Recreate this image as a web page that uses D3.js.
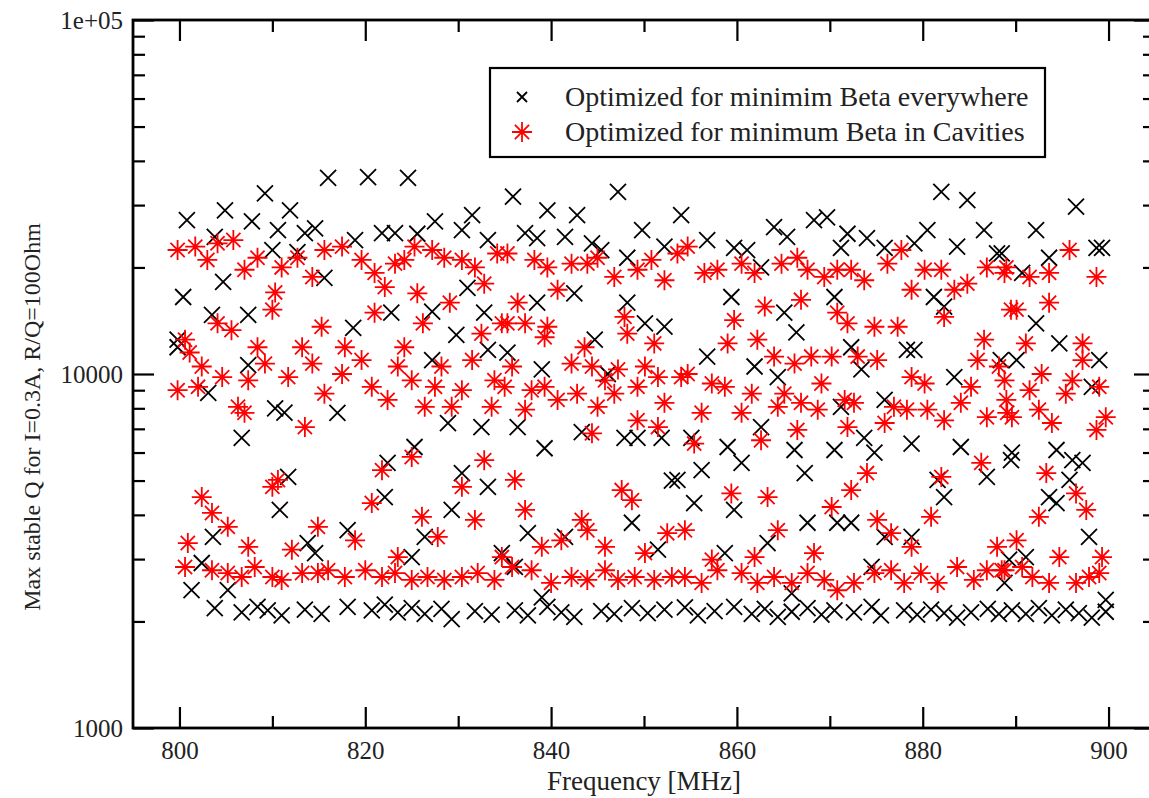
<!DOCTYPE html>
<html>
<head>
<meta charset="utf-8">
<script src="https://cdn.jsdelivr.net/npm/d3@7"></script>
<style>
  body { margin: 0; background: #fff; }
  svg text { font-family: "Liberation Serif", "Times New Roman", serif; fill: #222; }
</style>
</head>
<body>
<div id="chart"></div>
<script>
// [frequency MHz, max stable Q], split by band
const blackTop = [
  [816,35800],[809.2,32400],[804.9,29000],[811.9,29000],[800.8,27200],[807.8,27000],[810.6,25500],[813.5,25000],[814.6,25800],
  [803.8,24400],[810,22400],[812.7,22100],[804.7,18200],[815.6,18700],[800.4,16500],[803.5,14700],[807.4,14700],
  [820.3,36000],[824.6,35800],[831.5,28100],[827.5,27000],[830.4,25500],[821.8,25000],[823.2,25000],[825.6,24900],[833.2,23900],
  [818.9,23900],[831,17500],[822.8,14900],[827.2,15000],[832.8,14900],
  [847.2,32700],[835.9,31700],[839.6,29000],[842.8,28100],[849.8,25500],[837.2,25000],[838.5,24200],[841.5,24400],[844.4,23400],
  [852.2,22900],[845.4,22400],[848.2,21300],[842.5,16900],[848.2,15900],[838.5,15900],
  [854,28100],[864,26000],[865.4,24400],[868.3,27200],[869.7,27700],[856.8,23900],[859.7,22700],[861.1,22400],[862.6,20000],
  [871.2,22700],[859.4,16500],[865.1,14900],[870.5,16500],
  [882,32700],[884.8,31000],[880.5,25500],[886.6,25500],[871.9,24900],[874,24200],[875.9,22700],[879.1,23400],[883.7,22900],
  [888,21900],[881.2,16500],[882.3,15500],
  [896.5,29700],[892.2,25500],[893.6,21300],[898.7,22700],[899.3,22700],[888.5,21900],[890.7,19300]
];
const blackMid = [
  [799.8,12500],[799.8,11900],[807.4,10600],[803.1,8840],[810.3,8000],[811.3,7780],[806.7,6600],
  [818.7,13500],[829.8,12900],[827.2,10950],[833.2,11700],[817,7770],[828.9,7270],[832.5,7080],[825.3,6220],
  [844.7,12500],[850.1,13900],[852.2,13600],[839,10300],[835.3,11500],[846.1,10000],[836.4,7080],[843.3,6850],[839.3,6170],
  [847.9,6600],[849.3,6600],[851.9,6600],
  [866.4,13100],[856.8,11200],[861.9,10500],[864.4,9800],[871.2,8080],[855.1,6600],[859,6220],[862.6,7080],[866.2,6100],[870.5,6100],
  [878.3,11700],[879.1,11700],[873.4,10300],[872.3,11900],[883.4,9800],[875.9,8450],[888.4,10950],[873.7,6600],[874.8,6000],
  [878.8,6360],[884.1,6220],
  [892.2,13900],[894.7,12200],[890.1,10950],[899,10950],[898.2,9200],[889.6,6000],[894.4,6100]
];
const blackLow = [
  [811.7,5120],[810.8,4130],[803.6,3465],[813.8,3330],[814.6,3120],[802.4,2925],[801.3,2450],[805.2,2450],
  [822.4,5610],[830.4,5250],[833.2,4800],[822.1,4490],[829.3,4130],[818.1,3620],[826.4,3465],[825,3040],[834.7,3120],
  [853,5000],[848.7,3800],[837.5,3550],[841.5,3465],[836.1,2850],[851.5,3190],[839,2340],
  [867.3,5250],[860.5,5610],[856.2,5350],[853.6,5020],[855.4,4320],[859.7,4130],[867.6,3800],[863.3,3330],[870.8,3800],
  [858.7,3120],[865.9,2400],
  [886.9,5120],[889.5,5710],[882.3,4490],[881.6,5020],[872.3,3800],[878.8,3465],[875.9,3465],[874.5,2850],[888.8,2570],
  [896.1,5710],[897.2,5610],[895.8,5020],[893.6,4490],[894.4,4320],[897.9,3465],[891.1,3040],[889.3,2990],[899.7,2300]
];
const blackFloor = [
  [803.8,2180],[806.7,2120],[808.4,2200],[809.5,2150],[811,2080],[813.5,2160],[815.3,2100],
  [818.1,2200],[820.7,2150],[822.1,2230],[823.5,2120],[825,2180],[826.4,2100],[828.2,2170],[829.3,2030],[831.8,2140],[833.6,2090],
  [836.1,2150],[837.5,2080],[839.6,2200],[841.1,2120],[842.5,2060],[845.4,2140],[846.8,2100],[848.7,2180],[850.4,2110],[852.2,2160],
  [854.4,2190],[855.8,2080],[857.6,2140],[859.7,2200],[861.6,2100],[863,2170],[864.4,2060],[865.9,2130],[867.6,2180],[869.1,2090],
  [870.5,2150],
  [872.6,2120],[874.5,2200],[875.5,2080],[878,2150],[879.4,2090],[880.9,2160],[882.3,2110],[883.7,2050],[885.2,2120],[887,2170],
  [888.2,2100],
  [889.6,2150],[891.1,2100],[892.5,2180],[893.9,2080],[895.4,2160],[896.8,2110],[898.2,2050],[899.7,2130]
];

const redTop = [
  [799.8,22400],[801.7,22900],[803,21000],[804.1,23400],[805.8,23900],[807,19700],[808.4,21300],[811,20000],[812.7,21300],
  [814.3,18800],[815.6,22400],[810.3,17000],[810,15200],[804.1,13900],[805.6,13300],[815.3,13600],
  [817.5,22900],[819.6,21000],[821,19300],[822.1,17600],[823.2,20500],[824.2,21000],[825.3,22900],[827.2,22400],[828.5,21300],
  [830.4,21000],[831.8,20000],[832.8,18000],[834.2,21900],[825.6,16900],[829.1,15900],[821,14900],[826.2,13900],[832.5,13000],
  [834.7,13900],
  [835.3,21900],[838.2,21000],[839.6,20000],[842.2,20500],[843.9,20500],[845,21300],[846.8,18800],[849.3,19700],[850.8,21000],
  [852.2,18400],[840.7,17300],[836.4,15900],[847.9,14500],[848.2,13000],[835.3,13900],[837.2,13900],[839.6,13600],
  [854.7,22900],[853.6,21900],[856.5,19300],[857.9,19700],[860.5,20500],[861.9,19300],[864.8,20500],[866.5,21300],[867.6,19700],
  [869.4,18800],[870.8,19700],[866.9,16200],[863,15500],[859.7,14200],[870.8,14900],
  [872.3,19700],[873.7,18400],[876.2,20500],[877.7,22400],[880.2,19700],[882,19700],[878.8,17300],[883.4,17300],[884.8,18000],
  [882.3,14500],[886.9,20000],[888.8,19300],[889.5,15200],[871.9,13900],[874.8,13600],[877.3,13600],
  [895.8,22400],[898.7,18800],[889,20000],[891.5,18800],[893.6,19300],[890.1,15200],[893.6,15900]
];
const redMid = [
  [801.1,11500],[802.4,10500],[799.8,9000],[802,9200],[804.6,9800],[806.3,8080],[807,7770],[808.4,11900],[809.2,10700],
  [807.4,9600],[811.7,9800],[813.2,11900],[814.3,10700],[815.6,8800],[813.5,7080],[800.6,12500],
  [817.8,11900],[817.5,10000],[819.6,10950],[820.7,9200],[822.4,8450],[824.2,11900],[823.5,10500],[825,9600],[826.4,8080],
  [828.2,10500],[827.5,9200],[829.3,8080],[830.4,9000],[831.5,10950],[833.9,9600],[833.6,8080],
  [835.8,10500],[835,9200],[837.9,9000],[839.3,9200],[840.7,8450],[842.2,10700],[843.6,11900],[844.4,10500],[842.8,8800],
  [845,8080],[845.8,9600],[847.2,10300],[846.8,8800],[849.3,9200],[850.1,10500],[851.5,9800],[852.2,8290],[849.3,7400],
  [851.5,7080],[844.4,6800],[837.2,7930],[839.3,12700],[851.1,12200],
  [859,12200],[862.2,12500],[864,11200],[866.2,10700],[868,11200],[870.2,11200],[854,9800],[854.7,10000],[857.3,9400],
  [858.7,9200],[861.6,8800],[856.2,7770],[860.5,7770],[865.1,8800],[864.4,8080],[866.9,8290],[869.1,9400],[868.7,7930],
  [866.5,6950],[855.4,6360],[862.6,6500],
  [886.6,12500],[885.9,10950],[888.8,9600],[873,11200],[875.1,10950],[878.8,9800],[880.2,9400],[872.6,8290],[876.9,8080],
  [878.3,7930],[880.5,7930],[882.3,7400],[884.1,8290],[885.2,9200],[886.9,7550],[889.1,7770],[875.9,7270],[871.9,7080],[871.6,8450],
  [891.1,12200],[897.2,12200],[897.2,10950],[892.8,10000],[896.1,9600],[895.4,8800],[889,8450],[889.6,7550],[891.5,9000],
  [892.5,7930],[893.9,7270],[899.7,7550],[898.7,6950],[899,9200],[888.2,10500]
];
const redLow = [
  [802.4,4490],[803.5,4050],[805.2,3700],[810,4800],[810.6,5020],[800.9,3330],[807.4,3250],[812.1,3190],[814.9,3700],
  [825,5830],[821.8,5350],[832.8,5710],[830.4,4800],[820.7,4320],[826.1,3950],[831.8,3870],[827.8,3465],[818.9,3390],
  [823.5,3040],[834.7,3040],
  [836.1,5020],[847.6,4700],[848.7,4400],[837.2,4130],[843.3,3870],[843.9,3620],[841.1,3390],[839,3250],[845.8,3250],
  [852.5,3550],[850.1,3120],
  [859.4,4600],[863.3,4490],[870.2,4210],[854.4,3620],[864.4,3620],[868.3,3120],[861.9,3040],[857.3,2990],
  [886.3,5610],[874,5250],[872.3,4700],[882,5120],[875.1,3870],[880.9,3950],[876.6,3550],[878.8,3250],[888,3250],
  [893.3,5250],[896.5,4600],[897.6,4130],[892.5,3950],[890.1,3390],[894.7,3040],[899.3,3040]
];
const redFloor = [
  [800.6,2850],[803.5,2790],[805.2,2740],[806.7,2670],[808.1,2850],[810,2670],[811,2620],[813.2,2740],[814.9,2740],[816,2790],
  [817.8,2670],[820,2790],[821.8,2670],[823.2,2740],[825,2620],[826.7,2670],[828.5,2620],[830.4,2670],[832.1,2740],[833.9,2620],
  [835.8,2850],[837.9,2790],[840,2570],[842.2,2670],[843.9,2620],[845.8,2790],[847.2,2620],[849,2670],[851.1,2620],[853,2670],
  [854.4,2670],[856.2,2570],[857.9,2790],[860.5,2740],[862.2,2570],[864,2670],[865.9,2570],[867.6,2740],[869.4,2620],[870.8,2450],
  [872.6,2570],[874.8,2740],[876.6,2790],[878,2570],[879.8,2740],[881.6,2570],[883.7,2850],[885.5,2620],[886.9,2790],[888.8,2790],
  [888.5,2790],[890.7,2850],[891.8,2670],[893.6,2570],[896.5,2570],[897.9,2670],[899,2740]
];

const seriesNames = ['Optimized for minimim Beta everywhere', 'Optimized for minimum Beta in Cavities'];
const xMajorTicks = [800, 820, 840, 860, 880, 900];
const xMinorTicks = [810, 830, 850, 870, 890];
const yMajorTicks = [1000, 10000, 100000];
const yMinorTicks = [2000,3000,4000,5000,6000,7000,8000,9000,20000,30000,40000,50000,60000,70000,80000,90000];
const yTickLabels = {1000: '1000', 10000: '10000', 100000: '1e+05'};

const W = 1149, H = 798;
const m = {left: 133, right: 1155, top: 20, bottom: 728};

const svg = d3.select('#chart').append('svg')
  .attr('width', W).attr('height', H);

const x = d3.scaleLinear().domain([795, 905]).range([m.left, m.right]);
const y = d3.scaleLog().domain([1000, 100000]).range([m.bottom, m.top]);

// data first, frame on top
const plot = svg.append('g');

const black = blackTop.concat(blackMid, blackLow, blackFloor);
const red = redTop.concat(redMid, redLow, redFloor);

const xr = 8;
const crossPath = `M${-xr},${-xr}L${xr},${xr}M${-xr},${xr}L${xr},${-xr}`;
const ar = 10, ad = ar * Math.SQRT1_2;
const starPath = `M${-ar},0L${ar},0M0,${-ar}L0,${ar}M${-ad},${-ad}L${ad},${ad}M${-ad},${ad}L${ad},${-ad}`;

plot.append('g').selectAll('path')
  .data(black).enter().append('path')
    .attr('transform', d => `translate(${x(d[0])},${y(d[1])})`)
    .attr('d', crossPath)
    .attr('stroke', '#000')
    .attr('stroke-width', 1.8)
    .attr('fill', 'none');

plot.append('g').selectAll('path')
  .data(red).enter().append('path')
    .attr('transform', d => `translate(${x(d[0])},${y(d[1])})`)
    .attr('d', starPath)
    .attr('stroke', '#ff0000')
    .attr('stroke-width', 1.8)
    .attr('fill', 'none');

// axes: ticks on all four sides, pointing inward
function styleAxis(g) {
  g.select('.domain').remove();
  g.selectAll('.tick line').attr('stroke', '#000').attr('stroke-width', 2.2);
  g.selectAll('.tick text').attr('font-size', 25).attr('fill', '#222')
    .style('font-family', '"Liberation Serif", serif');
}

svg.append('g').attr('transform', `translate(0,${m.bottom})`)
  .call(d3.axisBottom(x).tickValues(xMajorTicks).tickSize(-21).tickPadding(13).tickFormat(d3.format('d')))
  .call(styleAxis);
svg.append('g').attr('transform', `translate(0,${m.bottom})`)
  .call(d3.axisBottom(x).tickValues(xMinorTicks).tickSize(-12).tickFormat(''))
  .call(styleAxis);
svg.append('g').attr('transform', `translate(0,${m.top})`)
  .call(d3.axisTop(x).tickValues(xMajorTicks).tickSize(-21).tickFormat(''))
  .call(styleAxis);
svg.append('g').attr('transform', `translate(0,${m.top})`)
  .call(d3.axisTop(x).tickValues(xMinorTicks).tickSize(-12).tickFormat(''))
  .call(styleAxis);

svg.append('g').attr('transform', `translate(${m.left},0)`)
  .call(d3.axisLeft(y).tickValues(yMajorTicks).tickSize(-21).tickPadding(10).tickFormat(d => yTickLabels[d]))
  .call(styleAxis);
svg.append('g').attr('transform', `translate(${m.left},0)`)
  .call(d3.axisLeft(y).tickValues(yMinorTicks).tickSize(-12).tickFormat(''))
  .call(styleAxis);
svg.append('g').attr('transform', `translate(${m.right},0)`)
  .call(d3.axisRight(y).tickValues(yMajorTicks).tickSize(-21).tickFormat(''))
  .call(styleAxis);
svg.append('g').attr('transform', `translate(${m.right},0)`)
  .call(d3.axisRight(y).tickValues(yMinorTicks).tickSize(-12).tickFormat(''))
  .call(styleAxis);

// frame
svg.append('rect')
  .attr('x', m.left).attr('y', m.top)
  .attr('width', m.right - m.left).attr('height', m.bottom - m.top)
  .attr('fill', 'none').attr('stroke', '#000').attr('stroke-width', 2.8);

// axis titles
svg.append('text')
  .attr('x', (x(800) + x(900)) / 2).attr('y', 790)
  .attr('text-anchor', 'middle').attr('font-size', 27)
  .text('Frequency [MHz]');

svg.append('text')
  .attr('transform', 'translate(40,417) rotate(-90)')
  .attr('text-anchor', 'middle').attr('font-size', 24)
  .text('Max stable Q for I=0.3A, R/Q=100Ohm');

// legend
const legend = svg.append('g').attr('transform', 'translate(490,68)');
legend.append('rect')
  .attr('width', 555).attr('height', 89)
  .attr('fill', '#fff').attr('stroke', '#000').attr('stroke-width', 2.2);
legend.append('path')
  .attr('transform', 'translate(32,29)').attr('d', 'M-5,-5L5,5M-5,5L5,-5')
  .attr('stroke', '#000').attr('stroke-width', 1.8).attr('fill', 'none');
legend.append('path')
  .attr('transform', 'translate(32,64)').attr('d', starPath)
  .attr('stroke', '#ff0000').attr('stroke-width', 1.8).attr('fill', 'none');
legend.selectAll('text.lbl')
  .data(seriesNames).enter().append('text')
    .attr('class', 'lbl')
    .attr('x', 75).attr('y', (d, i) => 38 + i * 35)
    .attr('font-size', 28)
    .text(d => d);
</script>
</body>
</html>
